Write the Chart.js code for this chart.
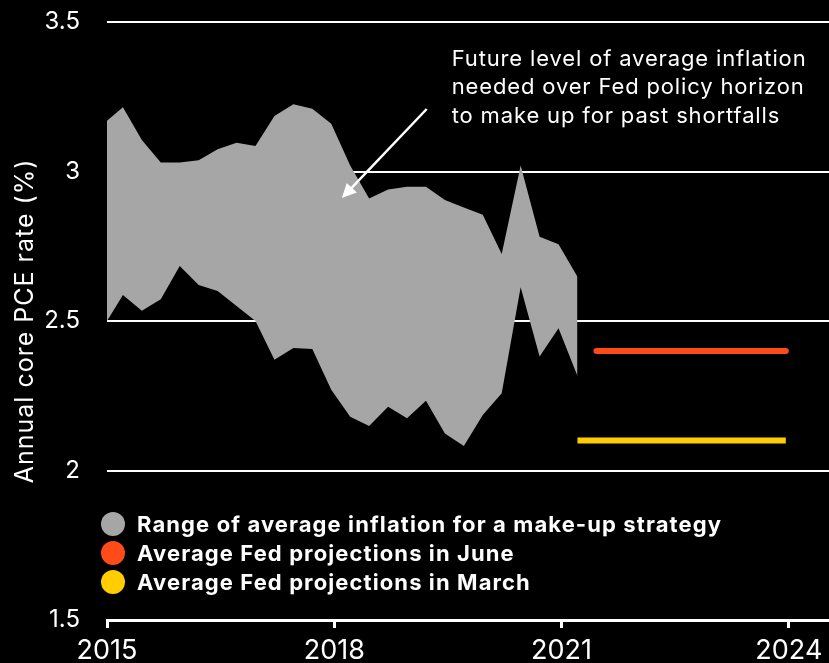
<!DOCTYPE html>
<html>
<head>
<meta charset="utf-8">
<script src="https://cdn.jsdelivr.net/npm/chart.js@4/dist/chart.umd.min.js"></script>
<style>
  html, body { margin: 0; padding: 0; background: #000; }
  #pceChart { display: block; }
</style>
</head>
<body>
<canvas id="pceChart" width="829" height="663"></canvas>
<script>
// quarterly dates (decimal years)
const dates = [
  2015.0, 2015.21, 2015.46, 2015.71, 2015.96, 2016.21, 2016.46, 2016.71, 2016.96,
  2017.21, 2017.46, 2017.71, 2017.96, 2018.21, 2018.46, 2018.71, 2018.96,
  2019.21, 2019.46, 2019.71, 2019.96, 2020.21, 2020.46, 2020.71, 2020.96, 2021.21
];
// top of the make-up range
const rangeHigh = [
  3.17, 3.215, 3.105, 3.03, 3.03, 3.038, 3.074, 3.096, 3.085,
  3.186, 3.225, 3.21, 3.16, 3.02, 2.91, 2.94, 2.949,
  2.949, 2.905, 2.88, 2.855, 2.724, 3.02, 2.782, 2.757, 2.648
];
// bottom of the make-up range
const rangeLow = [
  2.5, 2.587, 2.534, 2.573, 2.684, 2.62, 2.6, 2.55, 2.5,
  2.37, 2.41, 2.406, 2.27, 2.18, 2.149, 2.213, 2.175,
  2.233, 2.124, 2.082, 2.186, 2.258, 2.613, 2.381, 2.476, 2.316
];
// Fed projections
const juneDates = [2021.46, 2023.96];
const juneValues = [2.4, 2.4];
const marchDates = [2021.21, 2021.46, 2023.96];
const marchValues = [2.1, 2.1, 2.1];

const seriesLabels = [
  'Range of average inflation for a make-up strategy',
  'Average Fed projections in June',
  'Average Fed projections in March'
];
const seriesColors = ['#a6a6a6', '#ff4b17', '#ffcd00'];

const xTicks = [2015, 2018, 2021, 2024];
const yTicks = [1.5, 2, 2.5, 3, 3.5];
const yTitle = 'Annual core PCE rate (%)';

const noteLines = [
  'Future level of average inflation',
  'needed over Fed policy horizon',
  'to make up for past shortfalls'
];

const FONT = 'Inter, "Noto Sans", sans-serif';

function toPoints(xs, ys) {
  return xs.map((x, i) => ({ x: x, y: ys[i] }));
}

// legend drawn inside the plot, bottom left
const insideLegend = {
  id: 'insideLegend',
  afterDatasetsDraw(chart) {
    const { ctx, chartArea } = chart;
    ctx.save();
    ctx.font = 'bold 22px ' + FONT;
    ctx.letterSpacing = '1.1px';
    ctx.textBaseline = 'middle';
    ctx.textAlign = 'left';
    seriesLabels.forEach((label, i) => {
      const y = chartArea.bottom - 96 + i * 29;
      ctx.fillStyle = seriesColors[i];
      ctx.beginPath();
      ctx.arc(chartArea.left + 6, y, 12, 0, Math.PI * 2);
      ctx.fill();
      ctx.fillStyle = '#fff';
      ctx.fillText(label, chartArea.left + 30, y + 1);
    });
    ctx.restore();
  }
};

// text note + arrow, y axis title
const noteArrow = {
  id: 'noteArrow',
  afterDatasetsDraw(chart) {
    const { ctx, chartArea, scales: { x, y } } = chart;
    ctx.save();
    ctx.fillStyle = '#fff';
    ctx.font = '22px ' + FONT;
    ctx.letterSpacing = '0.85px';
    ctx.textBaseline = 'alphabetic';
    const tx = x.getPixelForValue(2019.55);
    const ty = y.getPixelForValue(3.353);
    noteLines.forEach((line, i) => ctx.fillText(line, tx, ty + i * 28.5));

    // rotated axis title
    ctx.save();
    ctx.font = '25px ' + FONT;
    ctx.letterSpacing = '1px';
    ctx.textAlign = 'center';
    ctx.textBaseline = 'middle';
    ctx.translate(25, (chartArea.top + chartArea.bottom) / 2);
    ctx.rotate(-Math.PI / 2);
    ctx.fillText(yTitle, 0, 0);
    ctx.restore();

    const x0 = x.getPixelForValue(2019.22), y0 = y.getPixelForValue(3.209);
    const x1 = x.getPixelForValue(2018.10), y1 = y.getPixelForValue(2.911);
    const ang = Math.atan2(y1 - y0, x1 - x0);
    const head = 16;
    ctx.strokeStyle = '#fff';
    ctx.lineWidth = 2.5;
    ctx.beginPath();
    ctx.moveTo(x0, y0);
    ctx.lineTo(x1 - Math.cos(ang) * head * 0.8, y1 - Math.sin(ang) * head * 0.8);
    ctx.stroke();
    ctx.beginPath();
    ctx.moveTo(x1, y1);
    ctx.lineTo(x1 - head * Math.cos(ang - 0.45), y1 - head * Math.sin(ang - 0.45));
    ctx.lineTo(x1 - head * Math.cos(ang + 0.45), y1 - head * Math.sin(ang + 0.45));
    ctx.closePath();
    ctx.fill();
    ctx.restore();
  }
};

const config = {
  type: 'line',
  data: {
    datasets: [{
      label: seriesLabels[0],
      data: toPoints(dates, rangeHigh),
      borderWidth: 0,
      borderColor: seriesColors[0],
      backgroundColor: seriesColors[0],
      pointRadius: 0,
      fill: '+1',
      tension: 0
    }, {
      label: 'low',
      data: toPoints(dates, rangeLow),
      borderWidth: 0,
      borderColor: seriesColors[0],
      pointRadius: 0,
      fill: false,
      tension: 0
    }, {
      label: seriesLabels[1],
      data: toPoints(juneDates, juneValues),
      borderColor: seriesColors[1],
      borderWidth: 6,
      borderCapStyle: 'round',
      pointRadius: 0,
      fill: false
    }, {
      label: seriesLabels[2],
      data: toPoints(marchDates, marchValues),
      borderColor: seriesColors[2],
      borderWidth: 6,
      borderCapStyle: 'butt',
      pointRadius: 0,
      fill: false
    }]
  },
  options: {
    responsive: false,
    animation: false,
    layout: { padding: { top: 22, right: 0, left: 0, bottom: 0 } },
    plugins: {
      legend: { display: false },
      tooltip: { enabled: false },
      title: { display: false }
    },
    scales: {
      x: {
        type: 'linear',
        min: 2015,
        max: 2024.53,
        afterBuildTicks: (scale) => { scale.ticks = xTicks.map(v => ({ value: v })); },
        afterFit: (scale) => {
          scale.height = 43;
          scale.paddingLeft = 0;
          scale.paddingRight = 0;
        },
        border: { display: true, color: '#fff', width: 3 },
        grid: {
          drawOnChartArea: false,
          drawTicks: true,
          tickLength: 8,
          tickWidth: 3,
          tickColor: '#fff'
        },
        ticks: {
          color: '#fff',
          font: { family: FONT, size: 27 },
          padding: 7,
          maxRotation: 0,
          callback: (v) => String(v)
        }
      },
      y: {
        min: 1.5,
        max: 3.5,
        afterBuildTicks: (scale) => { scale.ticks = yTicks.map(v => ({ value: v })); },
        afterFit: (scale) => {
          scale.width = 107;
          scale.paddingTop = 0;
          scale.paddingBottom = 0;
        },
        border: { display: false },
        grid: {
          drawTicks: false,
          lineWidth: 2,
          color: (c) => c.tick && c.tick.value === 1.5 ? 'rgba(0,0,0,0)' : '#fff'
        },
        ticks: {
          color: '#fff',
          font: { family: FONT, size: 24 },
          padding: 27,
          callback: (v) => String(v)
        }
      }
    }
  },
  plugins: [insideLegend, noteArrow]
};

const pceChart = new Chart(
  document.getElementById('pceChart'),
  config
);
</script>
</body>
</html>
